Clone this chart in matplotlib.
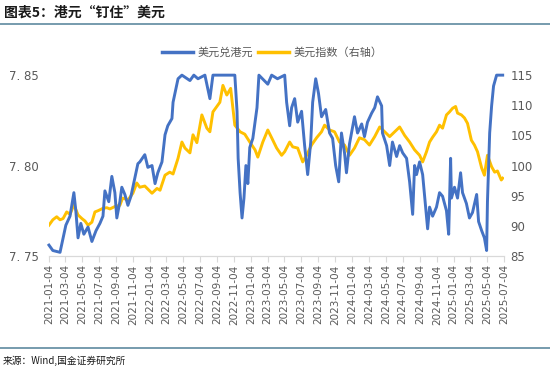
import matplotlib
matplotlib.use('Agg')
import matplotlib.pyplot as plt
from matplotlib.lines import Line2D
import pandas as pd

plt.rcParams['font.family'] = ['Noto Sans CJK SC', 'DejaVu Sans']

# 美元兑港元（左轴）
usdhkd_dates = [
    '2021-01-04', '2021-01-18', '2021-02-13', '2021-02-24', '2021-03-06', '2021-03-21',
    '2021-04-04', '2021-04-11', '2021-04-19', '2021-04-29', '2021-05-10', '2021-05-25',
    '2021-06-08', '2021-06-23', '2021-07-07', '2021-07-18', '2021-07-25', '2021-08-08',
    '2021-08-19', '2021-08-30', '2021-09-06', '2021-09-17', '2021-09-24', '2021-10-05',
    '2021-10-16', '2021-10-27', '2021-11-10', '2021-11-21', '2021-11-28', '2021-12-16',
    '2021-12-27', '2022-01-11', '2022-01-22', '2022-02-01', '2022-02-16', '2022-02-27',
    '2022-03-09', '2022-03-24', '2022-03-28', '2022-04-15', '2022-04-29', '2022-05-28',
    '2022-06-11', '2022-06-26', '2022-07-21', '2022-08-08', '2022-08-19', '2022-11-06',
    '2022-11-14', '2022-11-18', '2022-11-25', '2022-12-02', '2022-12-09', '2022-12-16',
    '2022-12-23', '2022-12-30', '2023-01-10', '2023-01-25', '2023-02-01', '2023-03-05',
    '2023-03-19', '2023-04-09', '2023-05-05', '2023-05-12', '2023-05-23', '2023-05-30',
    '2023-06-10', '2023-06-21', '2023-07-05', '2023-07-16', '2023-07-27', '2023-08-07',
    '2023-08-14', '2023-08-25', '2023-09-04', '2023-09-15', '2023-09-30', '2023-10-14',
    '2023-10-25', '2023-11-05', '2023-11-16', '2023-11-26', '2023-12-07', '2023-12-14',
    '2023-12-25', '2024-01-05', '2024-01-12', '2024-01-23', '2024-02-07', '2024-02-17',
    '2024-02-28', '2024-03-14', '2024-03-25', '2024-04-04', '2024-04-19', '2024-04-22',
    '2024-05-07', '2024-05-18', '2024-05-28', '2024-06-12', '2024-06-23', '2024-07-04',
    '2024-07-18', '2024-07-29', '2024-08-09', '2024-08-16', '2024-08-23', '2024-09-03',
    '2024-09-14', '2024-09-25', '2024-10-02', '2024-10-09', '2024-10-20', '2024-11-03',
    '2024-11-14', '2024-11-25', '2024-12-09', '2024-12-17', '2024-12-24', '2024-12-27',
    '2025-01-07', '2025-01-18', '2025-01-29', '2025-02-05', '2025-02-19', '2025-03-02',
    '2025-03-13', '2025-03-28', '2025-04-04', '2025-04-15', '2025-04-25', '2025-05-03',
    '2025-05-06', '2025-05-14', '2025-05-21', '2025-05-28', '2025-06-08', '2025-06-30',
]
usdhkd = [
    7.756, 7.753, 7.752, 7.760, 7.767, 7.772,
    7.785, 7.775, 7.760, 7.768, 7.762, 7.766,
    7.758, 7.764, 7.768, 7.772, 7.786, 7.780,
    7.794, 7.785, 7.771, 7.780, 7.788, 7.784,
    7.778, 7.783, 7.793, 7.801, 7.802, 7.806,
    7.799, 7.800, 7.790, 7.796, 7.802, 7.817,
    7.822, 7.826, 7.835, 7.848, 7.850, 7.847,
    7.850, 7.848, 7.850, 7.837, 7.850, 7.850,
    7.830, 7.804, 7.785, 7.771, 7.782, 7.800,
    7.790, 7.810, 7.815, 7.832, 7.850, 7.845,
    7.850, 7.848, 7.850, 7.835, 7.822, 7.832,
    7.837, 7.824, 7.830, 7.811, 7.795, 7.813,
    7.835, 7.848, 7.840, 7.827, 7.831, 7.818,
    7.815, 7.800, 7.791, 7.818, 7.807, 7.796,
    7.812, 7.821, 7.827, 7.818, 7.823, 7.816,
    7.824, 7.829, 7.832, 7.838, 7.833, 7.818,
    7.811, 7.800, 7.813, 7.805, 7.811, 7.807,
    7.804, 7.791, 7.773, 7.800, 7.795, 7.802,
    7.795, 7.777, 7.765, 7.777, 7.772, 7.777,
    7.785, 7.783, 7.775, 7.762, 7.804, 7.782,
    7.788, 7.782, 7.796, 7.785, 7.779, 7.771,
    7.774, 7.784, 7.769, 7.764, 7.760, 7.753,
    7.780, 7.818, 7.833, 7.844, 7.850, 7.850,
]

# 美元指数（右轴）
dxy_dates = [
    '2021-01-04', '2021-01-18', '2021-02-01', '2021-02-13', '2021-02-24', '2021-03-09',
    '2021-03-21', '2021-04-04', '2021-04-19', '2021-05-03', '2021-05-14', '2021-05-25',
    '2021-06-08', '2021-06-19', '2021-06-30', '2021-07-18', '2021-08-01', '2021-08-12',
    '2021-08-30', '2021-09-17', '2021-09-27', '2021-10-16', '2021-11-03', '2021-11-17',
    '2021-11-28', '2021-12-16', '2022-01-11', '2022-01-29', '2022-02-09', '2022-02-27',
    '2022-03-16', '2022-03-28', '2022-04-15', '2022-04-29', '2022-05-10', '2022-05-28',
    '2022-06-08', '2022-06-22', '2022-07-10', '2022-07-28', '2022-08-08', '2022-08-19',
    '2022-09-13', '2022-09-24', '2022-10-08', '2022-10-22', '2022-11-06', '2022-11-25',
    '2022-12-12', '2022-12-30', '2023-01-18', '2023-01-28', '2023-02-15', '2023-03-05',
    '2023-03-19', '2023-04-06', '2023-04-24', '2023-05-05', '2023-05-23', '2023-06-03',
    '2023-06-21', '2023-07-09', '2023-07-23', '2023-08-10', '2023-08-28', '2023-09-15',
    '2023-09-26', '2023-10-14', '2023-11-01', '2023-11-19', '2023-12-07', '2023-12-25',
    '2024-01-12', '2024-01-30', '2024-02-17', '2024-03-06', '2024-03-25', '2024-04-12',
    '2024-04-30', '2024-05-18', '2024-06-05', '2024-06-23', '2024-07-11', '2024-07-29',
    '2024-08-16', '2024-09-03', '2024-09-14', '2024-09-28', '2024-10-09', '2024-10-20',
    '2024-11-03', '2024-11-14', '2024-11-25', '2024-12-09', '2024-12-20', '2024-12-31',
    '2025-01-11', '2025-01-18', '2025-02-01', '2025-02-12', '2025-02-23', '2025-03-09',
    '2025-03-20', '2025-03-31', '2025-04-15', '2025-04-25', '2025-05-06', '2025-05-21',
    '2025-06-01', '2025-06-11', '2025-06-25', '2025-06-30',
]
dxy = [
    90.1, 91.0, 91.5, 91.0, 91.2, 92.3,
    91.9, 93.5, 91.8, 91.2, 90.8, 90.1,
    90.6, 92.3, 92.5, 92.9, 93.0, 92.8,
    93.2, 93.4, 94.6, 94.3, 95.4, 97.1,
    96.4, 96.6, 95.4, 96.2, 95.9, 98.4,
    98.9, 98.6, 101.2, 103.9, 102.9, 102.1,
    105.1, 103.8, 108.4, 106.2, 105.6, 108.9,
    110.5, 113.3, 111.7, 112.8, 106.7, 105.6,
    105.2, 103.9, 102.6, 101.4, 103.9, 105.9,
    104.6, 102.9, 101.7, 102.3, 103.9, 103.1,
    102.9, 100.6, 101.7, 103.4, 104.6, 105.6,
    106.7, 105.9, 105.6, 103.9, 103.4, 101.7,
    102.9, 104.6, 104.3, 103.4, 104.8, 106.4,
    105.6, 104.8, 105.6, 106.4, 105.0, 103.9,
    102.6, 101.7, 100.6, 102.3, 103.9, 104.7,
    105.6, 106.7, 106.2, 108.4, 108.9, 109.5,
    109.8, 108.7, 108.4, 107.9, 107.0, 104.2,
    103.4, 102.3, 99.6, 98.4, 101.7, 99.8,
    98.9, 99.1, 97.6, 97.9,
]

left_ticks = [7.75, 7.80, 7.85]
right_ticks = [85, 90, 95, 100, 105, 110, 115]

blue = '#4472C4'
gold = '#FFC000'
grey = '#595959'

fig = plt.figure(figsize=(5.5, 3.72), dpi=100)
ax = fig.add_axes([0.089, 0.312, 0.827, 0.486])
ax2 = ax.twinx()

ax.plot(pd.to_datetime(usdhkd_dates), usdhkd, color=blue, lw=2.1, zorder=3, clip_on=False)
ax2.plot(pd.to_datetime(dxy_dates), dxy, color=gold, lw=2.1, zorder=2)
ax.set_zorder(ax2.get_zorder() + 1)
ax.patch.set_visible(False)

ax.set_ylim(7.75, 7.85)
ax2.set_ylim(85, 115)
ax.set_xlim(pd.Timestamp('2021-01-04'), pd.Timestamp('2025-07-04'))

xt = pd.date_range('2021-01-04', '2025-07-04', freq=pd.DateOffset(months=2))
ax.set_xticks(xt)
ax.set_xticklabels([d.strftime('%Y-%m-%d') for d in xt], rotation=90,
                   fontsize=7.5, color=grey, family='DejaVu Sans')
ax.set_yticks(left_ticks)
ax.set_yticklabels(['7. 75', '7. 80', '7. 85'], fontsize=8.5, color=grey, family='DejaVu Sans')
ax2.set_yticks(right_ticks)
ax2.set_yticklabels([str(v) for v in right_ticks], fontsize=8.5, color=grey, family='DejaVu Sans')

for a in (ax, ax2):
    for s in ('top', 'left', 'right'):
        a.spines[s].set_visible(False)
    a.spines['bottom'].set_color('#d9d9d9')
ax.tick_params(axis='x', length=4, color='#d9d9d9', pad=2)
ax.tick_params(axis='y', length=0, pad=7)
ax2.tick_params(axis='y', length=0, pad=5)

# 图例
handles = [Line2D([0], [0], color=blue, lw=2.5, label='美元兑港元'),
           Line2D([0], [0], color=gold, lw=2.5, label='美元指数（右轴）')]
fig.legend(handles=handles, loc='center', bbox_to_anchor=(0.495, 0.86), ncol=2,
           frameon=False, fontsize=8, handlelength=2.8, handletextpad=0.4,
           columnspacing=0.5, labelcolor=grey)

# 标题与来源
fig.text(0.008, 0.965, '图表5：港元“钉住”美元', fontsize=10, fontweight='bold',
         style='italic', color='#1a1a1a', va='center', ha='left')
fig.add_artist(Line2D([0, 1], [0.935, 0.935], color='#5f8aa0', lw=1.2))
fig.add_artist(Line2D([0, 1], [0.065, 0.065], color='#5f8aa0', lw=1.2))
fig.text(0.005, 0.03, '来源：Wind,国金证券研究所', fontsize=7, color='#1a1a1a',
         va='center', ha='left')

fig.savefig('out.png', dpi=100)
